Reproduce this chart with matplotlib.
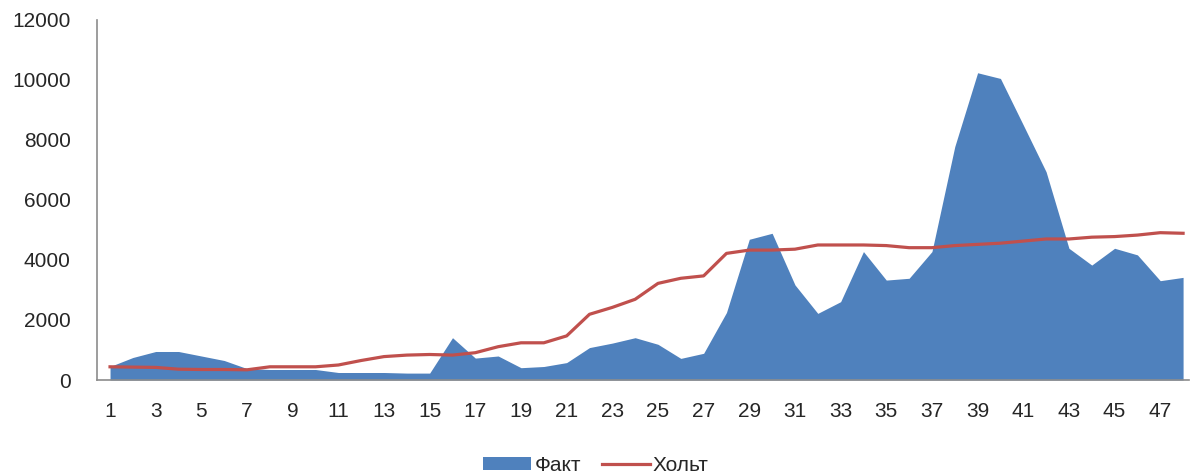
import numpy as np
import matplotlib
matplotlib.use('Agg')
from matplotlib import pyplot as plt

# data
periods = np.arange(1, 49)
fact = [450, 750, 950, 950, 800, 650, 380, 350, 350, 350,
        250, 250, 250, 230, 230, 1410, 730, 800, 410, 450,
        580, 1080, 1230, 1410, 1190, 720, 890, 2250, 4690, 4890,
        3170, 2220, 2610, 4280, 3330, 3390, 4280, 7780, 10240, 10050,
        8500, 6940, 4390, 3830, 4390, 4170, 3310, 3420]
holt = [440, 430, 420, 360, 350, 350, 340, 440, 440, 440,
        500, 650, 780, 830, 850, 830, 910, 1110, 1240, 1240,
        1470, 2190, 2420, 2690, 3220, 3390, 3470, 4220, 4330, 4330,
        4360, 4500, 4500, 4500, 4480, 4410, 4410, 4480, 4520, 4560,
        4630, 4700, 4700, 4760, 4780, 4830, 4910, 4890]
xticks = list(range(1, 48, 2))
yticks = [0, 2000, 4000, 6000, 8000, 10000, 12000]
labels = ['Факт', 'Хольт']

plt.rcParams['font.family'] = ['Liberation Sans', 'DejaVu Sans']

fig = plt.figure(figsize=(11.92, 4.75), dpi=100)
ax = fig.add_axes([0.0814, 0.2, 0.9161, 0.758])

ax.fill_between(periods, fact, color='#4F81BD', lw=0, label=labels[0])
ax.plot(periods, holt, color='#C0504D', lw=2.3, label=labels[1])

ax.set_xlim(0.43, 48.26)
ax.set_ylim(0, 12000)
ax.set_xticks(xticks)
ax.set_yticks(yticks)
ax.tick_params(axis='both', length=0, labelsize=15, colors='#262626')
ax.tick_params(axis='y', pad=19)
ax.tick_params(axis='x', pad=16)

for s in ['top', 'right']:
    ax.spines[s].set_visible(False)
for s in ['left', 'bottom']:
    ax.spines[s].set_color('#8C8C8C')
    ax.spines[s].set_linewidth(1.2)

fig.legend(loc='center', bbox_to_anchor=(0.5, 0.02), ncol=2, frameon=False,
           fontsize=15, handlelength=2.3, handletextpad=0.15,
           columnspacing=1.0, handleheight=0.6, labelcolor='#262626')

fig.savefig('out.png', dpi=100)
